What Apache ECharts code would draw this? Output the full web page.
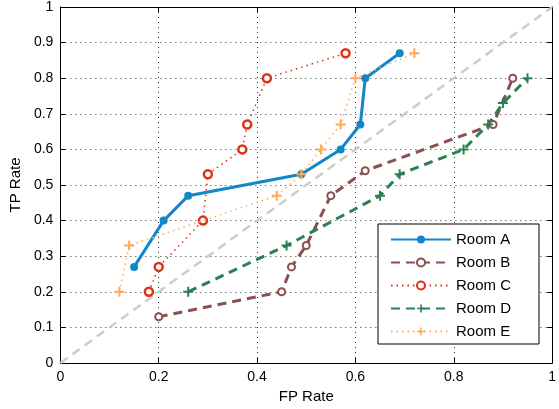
<!DOCTYPE html>
<html><head><meta charset="utf-8">
<script src="https://cdn.jsdelivr.net/npm/echarts@6/dist/echarts.min.js"></script>
<style>html,body{margin:0;padding:0;background:#fff}#c{width:559px;height:409px}</style>
</head><body><div id="c"></div>
<script>
const seriesNames = ['Room A','Room B','Room C','Room D','Room E'];
const fpA = [0.15,0.21,0.26,0.49,0.57,0.61,0.62,0.69];
const tpA = [0.27,0.40,0.47,0.53,0.60,0.67,0.80,0.87];
const fpB = [0.20,0.45,0.47,0.50,0.55,0.62,0.88,0.92];
const tpB = [0.13,0.20,0.27,0.33,0.47,0.54,0.67,0.80];
const fpC = [0.18,0.20,0.29,0.30,0.37,0.38,0.42,0.58];
const tpC = [0.20,0.27,0.40,0.53,0.60,0.67,0.80,0.87];
const fpD = [0.26,0.46,0.65,0.69,0.82,0.87,0.90,0.95];
const tpD = [0.20,0.33,0.47,0.53,0.60,0.67,0.73,0.80];
const fpE = [0.12,0.14,0.44,0.49,0.53,0.57,0.60,0.72];
const tpE = [0.20,0.33,0.47,0.53,0.60,0.67,0.80,0.87];
const diagX = [0,1];
const diagY = [0,1];
const xTicks = [0,0.2,0.4,0.6,0.8,1];
const yTicks = [0,0.1,0.2,0.3,0.4,0.5,0.6,0.7,0.8,0.9,1];

const zip = (a,b)=>a.map((v,i)=>[v,b[i]]);
const plus = 'path://M4,0H6V4H10V6H6V10H4V6H0V4H4Z';
const FONT = 'Liberation Sans';
const chart = echarts.init(document.getElementById('c'), null, {renderer:'canvas'});
const grid = {left:60, right:2, top:6, bottom:46};
const splitStyle = {show:true, lineStyle:{color:'#333', width:1, type:[1,4]}};
const fmt = v => String(Math.round(v*10)/10);
chart.setOption({
  animation:false,
  backgroundColor:'#fff',
  grid: grid,
  xAxis:[{
    type:'value', min:0, max:1, interval:0.2, position:'bottom',
    name:'FP Rate', nameLocation:'middle', nameGap:25,
    nameTextStyle:{fontFamily:FONT, fontSize:15, color:'#000'},
    axisLine:{show:true, onZero:false, lineStyle:{color:'#000', width:1}},
    axisTick:{show:true, inside:true, length:5, lineStyle:{color:'#000'}},
    axisLabel:{fontFamily:FONT, fontSize:14, color:'#000', margin:7, formatter:fmt},
    splitLine:splitStyle
  },{
    type:'value', min:0, max:1, interval:0.2, position:'top',
    axisLine:{show:true, onZero:false, lineStyle:{color:'#000', width:1}},
    axisTick:{show:true, inside:true, length:5, lineStyle:{color:'#000'}},
    axisLabel:{show:false}, splitLine:{show:false}
  }],
  yAxis:[{
    type:'value', min:0, max:1, interval:0.1, position:'left',
    name:'TP Rate', nameLocation:'middle', nameGap:37, nameRotate:90,
    nameTextStyle:{fontFamily:FONT, fontSize:15, color:'#000'},
    axisLine:{show:true, onZero:false, lineStyle:{color:'#000', width:1}},
    axisTick:{show:true, inside:true, length:5, lineStyle:{color:'#000'}},
    axisLabel:{fontFamily:FONT, fontSize:14, color:'#000', margin:7, formatter:fmt},
    splitLine:splitStyle
  },{
    type:'value', min:0, max:1, interval:0.1, position:'right',
    axisLine:{show:true, onZero:false, lineStyle:{color:'#000', width:1}},
    axisTick:{show:true, inside:true, length:5, lineStyle:{color:'#000'}},
    axisLabel:{show:false}, splitLine:{show:false}
  }],
  legend:{
    data:seriesNames, orient:'vertical', left:378, top:224,
    backgroundColor:'#fff', borderColor:'#000', borderWidth:1,
    padding:[7,28,4,12], itemWidth:60, itemHeight:10, itemGap:6,
    textStyle:{fontFamily:FONT, fontSize:15, color:'#000', lineHeight:17}
  },
  series:[
    {name:'diag', type:'line', data:zip(diagX,diagY), showSymbol:false, symbol:'none', silent:true,
     lineStyle:{color:'#cccccc', width:2.5, type:[9,6]}, z:1},
    {name:'Room A', type:'line', data:zip(fpA,tpA), symbol:'circle', symbolSize:8,
     itemStyle:{color:'#1087c9'}, lineStyle:{color:'#1087c9', width:3, type:'solid'}, z:3},
    {name:'Room B', type:'line', data:zip(fpB,tpB), symbol:'circle', symbolSize:7,
     itemStyle:{color:'#fff', borderColor:'#8a4f4f', borderWidth:2}, lineStyle:{color:'#8a4f4f', width:3, type:[9,6]}, z:3},
    {name:'Room C', type:'line', data:zip(fpC,tpC), symbol:'circle', symbolSize:8,
     itemStyle:{color:'#fff', borderColor:'#dd3311', borderWidth:2.5}, lineStyle:{color:'#dd3311', width:1.5, type:[1.5,4]}, z:3},
    {name:'Room D', type:'line', data:zip(fpD,tpD), symbol:plus, symbolSize:10,
     itemStyle:{color:'#2a8050'}, lineStyle:{color:'#2a8050', width:3, type:[9,6]}, z:3},
    {name:'Room E', type:'line', data:zip(fpE,tpE), symbol:plus, symbolSize:10,
     itemStyle:{color:'#ffaa55'}, lineStyle:{color:'#ffaa55', width:1.5, type:[1.5,4]}, z:4}
  ]
});
</script></body></html>
